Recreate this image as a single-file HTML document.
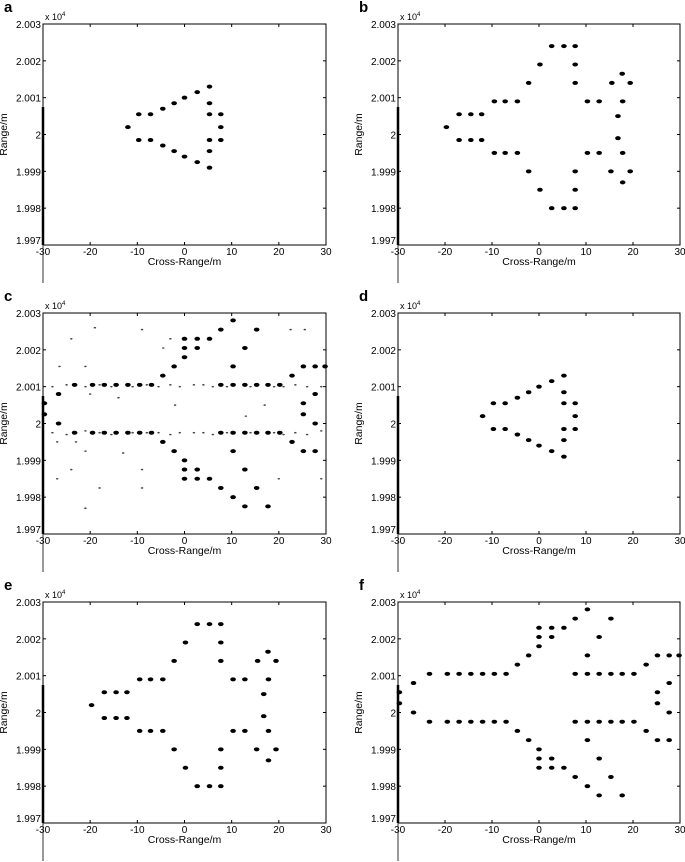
<!DOCTYPE html>
<html><head><meta charset="utf-8"><style>
body{margin:0;background:#fff;}
svg{display:block;font-family:"Liberation Sans",sans-serif;}
</style></head><body>
<svg id="fig" width="685" height="862" viewBox="0 0 685 862"></svg>
<script>
// data: x = cross-range (m), y = (range - 2e4) in metres*... units of 0.001e4
const xTicks=[-30,-20,-10,0,10,20,30];
const yTicks=[3,2,1,0,-1,-2,-3];
const yTickLabels=["2.003","2.002","2.001","2","1.999","1.998","1.997"];
const panelLetters=["a","b","c","d","e","f"];
const ptsA=[[5.3,1.3],[2.7,1.15],[0,1.0],[-2.2,0.85],[-4.6,0.7],[-7.2,0.55],[-9.7,0.55],[-12,0.2],[-9.7,-0.15],[-7.2,-0.15],[-4.6,-0.3],[-2.2,-0.45],[0,-0.6],[2.7,-0.75],[5.3,-0.9],[5.3,0.85],[5.3,0.55],[7.7,0.55],[7.7,0.2],[7.7,-0.15],[5.3,-0.15],[5.3,-0.45]];
const ptsB=[[2.7,2.4],[5.3,2.4],[7.7,2.4],[0.2,1.9],[7.7,1.9],[-2.2,1.4],[7.7,1.4],[15.5,1.4],[17.7,1.65],[19.4,1.4],[-9.5,0.9],[-7.2,0.9],[-4.6,0.9],[10.3,0.9],[12.8,0.9],[17.8,0.9],[-17,0.55],[-14.5,0.55],[-12.2,0.55],[16.8,0.5],[-19.7,0.2],[-17,-0.15],[-14.5,-0.15],[-12.2,-0.15],[16.8,-0.1],[-9.5,-0.5],[-7.2,-0.5],[-4.6,-0.5],[10.3,-0.5],[12.8,-0.5],[17.8,-0.5],[-2.2,-1.0],[7.7,-1.0],[15.3,-1.0],[19.4,-1.0],[17.8,-1.3],[0.2,-1.5],[7.7,-1.5],[2.7,-2.0],[5.3,-2.0],[7.7,-2.0]];
const ptsF=[[10.3,2.8],[7.7,2.55],[15.3,2.55],[0,2.3],[2.7,2.3],[5.3,2.3],[0,2.05],[2.7,2.05],[12.8,2.05],[0,1.8],[-2.2,1.55],[10.3,1.55],[-4.6,1.3],[22.8,1.3],[25.2,1.55],[27.7,1.55],[29.8,1.55],
[-23.3,1.05],[-19.5,1.05],[-17,1.05],[-14.5,1.05],[-12,1.05],[-9.5,1.05],[-7,1.05],[7.7,1.05],[10.3,1.05],[12.8,1.05],[15.3,1.05],[17.7,1.05],[20.2,1.05],
[-26.7,0.8],[27.7,0.8],[-29.7,0.55],[25.2,0.55],[-29.7,0.25],[25.2,0.25],[-26.7,0],[27.7,0],
[-23.3,-0.25],[-19.5,-0.25],[-17,-0.25],[-14.5,-0.25],[-12,-0.25],[-9.5,-0.25],[-7,-0.25],[7.7,-0.25],[10.3,-0.25],[12.8,-0.25],[15.3,-0.25],[17.7,-0.25],[20.2,-0.25],
[-4.6,-0.5],[22.8,-0.5],[-2.2,-0.75],[10.3,-0.75],[25.2,-0.75],[27.7,-0.75],[0,-1.0],[0,-1.25],[2.7,-1.25],[12.8,-1.25],[0,-1.5],[2.7,-1.5],[5.3,-1.5],[7.7,-1.75],[15.3,-1.75],[10.3,-2.0],[12.8,-2.25],[17.7,-2.25]];
const noiseC=[[-28,1.0],[-25,1.05],[-21,1.0],[-18,1.05],[-15.5,1.0],[-11,1.0],[-8,1.05],[-5.5,1.0],[-3,1.05],[-1,1.0],[2,1.05],[4,1.05],[6,1.0],[9,1.0],[14,1.0],[19,1.0],[21,1.0],[23.5,1.05],[26,1.0],[29,1.0],
[-28,-0.25],[-25,-0.3],[-21,-0.2],[-18,-0.25],[-15.5,-0.3],[-11,-0.25],[-8,-0.25],[-5.5,-0.25],[-3,-0.3],[-1,-0.25],[2,-0.25],[4,-0.25],[6,-0.3],[9,-0.25],[14,-0.25],[19,-0.25],[21,-0.3],[23.5,-0.25],[26,-0.3],[29,-0.2],
[-24,2.3],[-19,2.6],[-9,2.55],[-3,2.3],[-26.5,1.55],[-21,1.55],[-4.5,2.05],[22.5,2.55],[25.5,2.55],[-20,0.8],[-2,0.5],[-14,0.7],[-27,-0.5],[-21,-0.75],[-9,-1.25],[-13,-0.8],[-24,-1.25],[-18,-1.75],[-21,-2.3],[-27,-1.5],[-9,-1.75],[-23,-0.5],[13,0.2],[17,0.5],[20,-1.5],[29,-1.5]];
const panels=[
 {L:43,R:326,T:24,B:245,pts:ptsA,noise:[]},
 {L:398,R:680,T:24,B:245,pts:ptsB,noise:[]},
 {L:43,R:326,T:313,B:534,pts:ptsF,noise:noiseC},
 {L:398,R:680,T:313,B:534,pts:ptsA,noise:[]},
 {L:43,R:326,T:602,B:823,pts:ptsB,noise:[]},
 {L:398,R:680,T:602,B:823,pts:ptsF,noise:[]}];
const svg=document.getElementById('fig');
const NS='http://www.w3.org/2000/svg';
function mk(tag,attrs,parent){const e=document.createElementNS(NS,tag);for(const k in attrs)e.setAttribute(k,attrs[k]);(parent||svg).appendChild(e);return e;}
panels.forEach((p,i)=>{
 const g=mk('g',{});
 
 
 const sx=v=>p.L+(v+30)/60*(p.R-p.L);
 const sy=v=>p.T+(3-v)/6*(p.B-p.T);
 const lt=mk('text',{x:p.L-39,y:p.T-12,'font-size':15,'font-weight':'bold'},g);lt.textContent=panelLetters[i];
 
 const fr=mk('rect',{x:p.L,y:p.T,width:p.R-p.L,height:p.B-p.T,fill:'none',stroke:'#000','stroke-width':1},g);
 
 xTicks.forEach(v=>{const x=sx(v);
  mk('line',{x1:x,y1:p.B,x2:x,y2:p.B-3,stroke:'#000'},g);mk('line',{x1:x,y1:p.T,x2:x,y2:p.T+3,stroke:'#000'},g);
  const t=mk('text',{x:x,y:p.B+10,'font-size':10,'text-anchor':'middle'},g);t.textContent=v;
  });
 yTicks.forEach((v,j)=>{const y=sy(v);
  mk('line',{x1:p.L,y1:y,x2:p.L+3,y2:y,stroke:'#000'},g);mk('line',{x1:p.R,y1:y,x2:p.R-3,y2:y,stroke:'#000'},g);
  const t=mk('text',{x:p.L-2,y:y+(j==6?-1:4),'font-size':10,'text-anchor':'end'},g);t.textContent=yTickLabels[j];
  });
 const ex=mk('text',{x:p.L+2,y:p.T-4,'font-size':9},g);ex.innerHTML='x 10<tspan dy="-4" font-size="6">4</tspan>';
 
 const xt=mk('text',{x:(p.L+p.R)/2,y:p.B+20,'font-size':10.5,'text-anchor':'middle'},g);xt.textContent='Cross-Range/m';
 
 const yt=mk('text',{x:0,y:0,'font-size':10.5,'text-anchor':'middle',transform:`translate(${p.L-36},${(p.T+p.B)/2}) rotate(-90)`},g);yt.textContent='Range/m';
 
 mk('line',{x1:p.L,y1:p.T+83,x2:p.L,y2:p.B,stroke:'#000','stroke-width':2.5},g);
 mk('line',{x1:p.L,y1:p.B,x2:p.L,y2:p.B+38,stroke:'#333','stroke-width':1},g);
 p.noise.forEach(d=>{const c=mk('ellipse',{cx:sx(d[0]),cy:sy(d[1]),rx:1.3,ry:0.8,fill:'#444'},g);
  });
 p.pts.forEach(d=>{const c=mk('ellipse',{cx:sx(d[0]),cy:sy(d[1]),rx:2.8,ry:2,fill:'#000'},g);
  });
});
</script>
</body></html>
